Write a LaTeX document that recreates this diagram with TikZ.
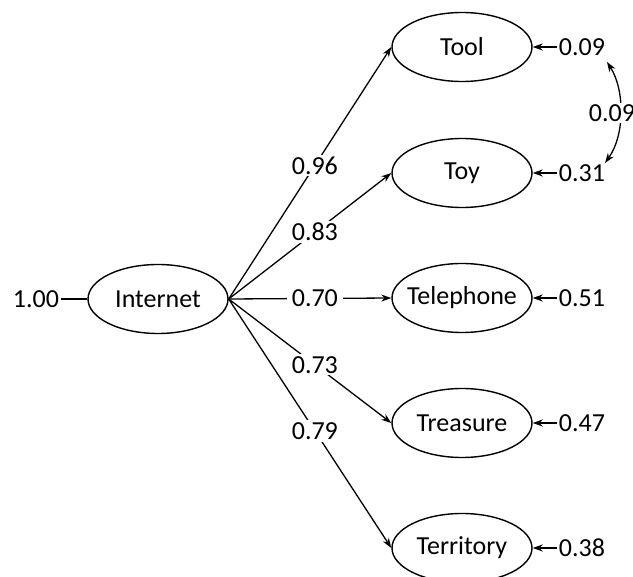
\documentclass[tikz,border=0pt]{standalone}
\usepackage{fontspec}
\setmainfont{Carlito}
\usetikzlibrary{shapes.geometric,arrows.meta}
% centred label that does not widen its ellipse
\newcommand\ellabel[1]{\makebox[0pt]{#1}}
\begin{document}
\begin{tikzpicture}[x=1pt,y=-1pt,
  every node/.style={font=\fontsize{26}{30}\selectfont},
  latent/.style={draw,ellipse,line width=1.4pt,minimum width=140pt,minimum height=69pt,inner sep=0pt},
  plain/.style={inner sep=2pt},
  path/.style={line width=1.3pt,-{Stealth[length=10pt,width=7pt]}},
  coef/.style={fill=white,inner xsep=5pt,inner ysep=2pt,pos=0.53}]
\useasboundingbox (0,0) rectangle (633,577);
% latent factor
\node[latent] (inet) at (158,299) {\ellabel{Internet}};
\node[plain] (v0) at (36,299) {1.00};
\draw[line width=1.3pt] (v0) -- (inet);
% indicators
\node[latent] (tool) at (462,47) {\ellabel{Tool}};
\node[latent] (toy) at (462,173) {\ellabel{Toy}};
\node[latent] (tel) at (462,298) {\ellabel{Telephone}};
\node[latent] (trea) at (462,423) {\ellabel{Treasure}};
\node[latent] (terr) at (462,548) {\ellabel{Territory}};
% loadings
\draw[path] (inet.east) -- node[coef] {0.96} (tool.west);
\draw[path] (inet.east) -- node[coef] {0.83} (toy.west);
\draw[path] (inet.east) -- node[coef] {0.70} (tel.west);
\draw[path] (inet.east) -- node[coef] {0.73} (trea.west);
\draw[path] (inet.east) -- node[coef] {0.79} (terr.west);
% error variances
\node[plain] (e1) at (582,47) {0.09};
\node[plain] (e2) at (582,173) {0.31};
\node[plain] (e3) at (582,298) {0.51};
\node[plain] (e4) at (582,423) {0.47};
\node[plain] (e5) at (582,548) {0.38};
\foreach \e/\v in {e1/tool,e2/toy,e3/tel,e4/trea,e5/terr}
  \draw[path] (\e.west) -- (\v.east);
% error covariance
\coordinate (c1) at (607,62);
\coordinate (c2) at (605,163);
\draw[line width=1.3pt,{Stealth[length=10pt,width=7pt]}-{Stealth[length=10pt,width=7pt]}]
  (c1) .. controls (625,90) and (625,135) .. (c2);
\node[fill=white,inner sep=1pt] (cov) at (612,113) {0.09};
\end{tikzpicture}
\end{document}
